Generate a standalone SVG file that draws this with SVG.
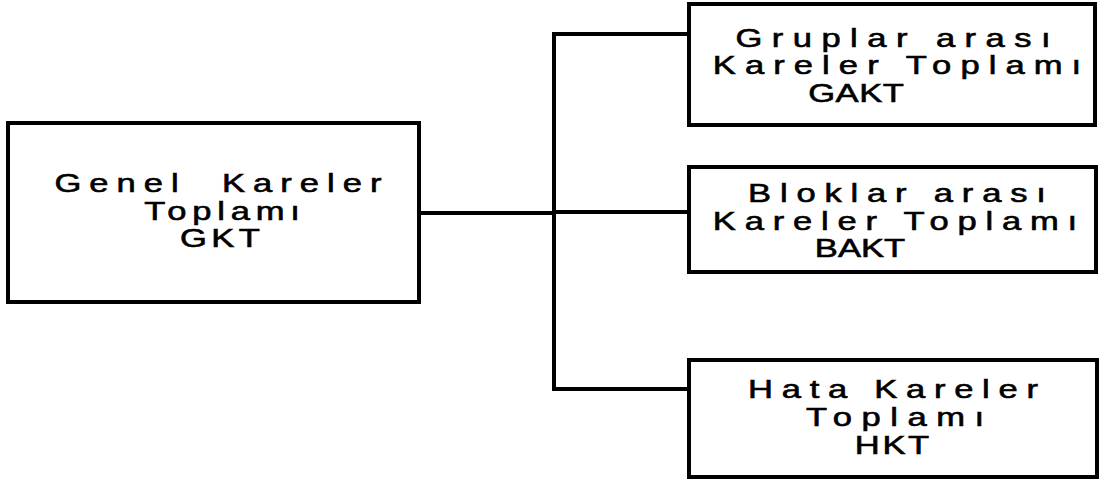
<svg xmlns="http://www.w3.org/2000/svg" width="1100" height="479" viewBox="0 0 1100 479">
  <style>
    .box { fill: #ffffff; stroke: #000000; stroke-width: 4; }
    .wire { fill: none; stroke: #000000; stroke-width: 4; stroke-linejoin: miter; stroke-linecap: square; }
    .lbl { font-family: "Liberation Sans", Arial, sans-serif; font-size: 26px; fill: #000000; stroke: #000000; stroke-width: 0.6; text-anchor: middle; }
  </style>
  <rect width="1100" height="479" fill="#ffffff"/>

  <!-- connectors: trunk from the total box, spine, three branches -->
  <g id="connectors">
    <path class="wire" d="M419 213 H554"/>
    <path class="wire" d="M689 34 H554 V389 H689"/>
    <path class="wire" d="M554 212 H689"/>
  </g>

  <!-- total sum of squares -->
  <g id="gkt">
    <rect class="box" x="8" y="123" width="411" height="179"/>
    <g transform="translate(218 0) scale(1.33 1)">
      <text class="lbl" x="0" y="192" textLength="246" lengthAdjust="spacing" xml:space="preserve">Genel  Kareler</text>
    </g>
    <g transform="translate(222 0) scale(1.33 1)">
      <text class="lbl" x="0" y="220" textLength="117" lengthAdjust="spacing">Toplamı</text>
    </g>
    <g transform="translate(220 0) scale(1.33 1)">
      <text class="lbl" x="0" y="247" textLength="60" lengthAdjust="spacing">GKT</text>
    </g>
  </g>

  <!-- between-groups sum of squares -->
  <g id="gakt">
    <rect class="box" x="689" y="4" width="406" height="121"/>
    <g transform="translate(893 0) scale(1.33 1)">
      <text class="lbl" x="0" y="47" textLength="237" lengthAdjust="spacing">Gruplar arası</text>
    </g>
    <g transform="translate(897 0) scale(1.33 1)">
      <text class="lbl" x="0" y="74" textLength="277" lengthAdjust="spacing">Kareler Toplamı</text>
    </g>
    <g transform="translate(856 0) scale(1.33 1)">
      <text class="lbl" x="0" y="102" textLength="72" lengthAdjust="spacing">GAKT</text>
    </g>
  </g>

  <!-- between-blocks sum of squares -->
  <g id="bakt">
    <rect class="box" x="689" y="167" width="407" height="105"/>
    <g transform="translate(897 0) scale(1.33 1)">
      <text class="lbl" x="0" y="202" textLength="224" lengthAdjust="spacing">Bloklar arası</text>
    </g>
    <g transform="translate(895 0) scale(1.33 1)">
      <text class="lbl" x="0" y="230" textLength="274" lengthAdjust="spacing">Kareler Toplamı</text>
    </g>
    <g transform="translate(860 0) scale(1.33 1)">
      <text class="lbl" x="0" y="257" textLength="68" lengthAdjust="spacing">BAKT</text>
    </g>
  </g>

  <!-- error sum of squares -->
  <g id="hkt">
    <rect class="box" x="689" y="360" width="408" height="117"/>
    <g transform="translate(893 0) scale(1.33 1)">
      <text class="lbl" x="0" y="398" textLength="218" lengthAdjust="spacing">Hata Kareler</text>
    </g>
    <g transform="translate(895 0) scale(1.33 1)">
      <text class="lbl" x="0" y="426" textLength="134" lengthAdjust="spacing">Toplamı</text>
    </g>
    <g transform="translate(892 0) scale(1.33 1)">
      <text class="lbl" x="0" y="454" textLength="56" lengthAdjust="spacing">HKT</text>
    </g>
  </g>
</svg>
